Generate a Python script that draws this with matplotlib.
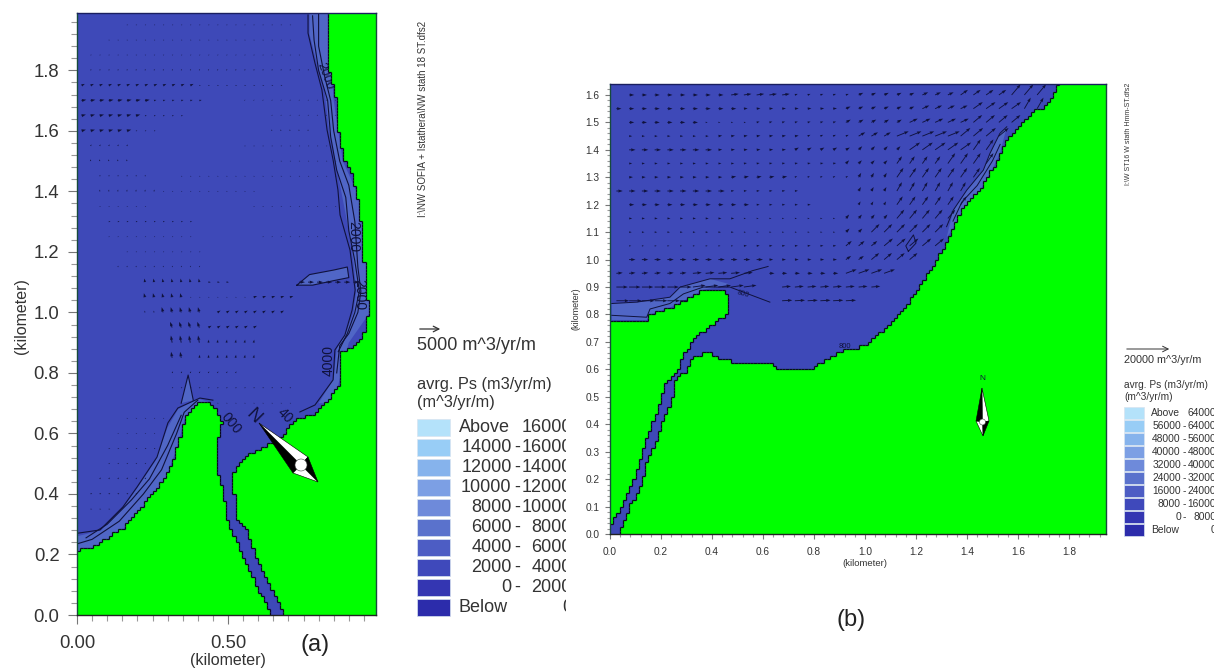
import numpy as np
import matplotlib
matplotlib.use("Agg")
import matplotlib.pyplot as plt
from matplotlib.collections import LineCollection
from matplotlib.colors import ListedColormap
from matplotlib.patches import Circle, Polygon, Rectangle
from matplotlib.path import Path

plt.rcParams['font.family'] = ['Liberation Sans', 'DejaVu Sans']

WATER = '#3e49b8'
BAND = '#5066c6'
LAND = '#00ff00'
DARK = '#10123c'
TEXT = '#333333'

# coastlines, km
a_land_right = [(.825, 2.0), (.825, 1.834), (.841, 1.768), (.858, 1.702), (.864, 1.603), (.887, 1.504),
                (.911, 1.454), (.927, 1.388), (.944, 1.272), (.950, 1.173), (.957, 1.074), (.964, 1.008),
                (.954, .942), (.930, .899), (.871, .866), (.871, .767), (.821, .701), (.778, .661),
                (.728, .651), (.682, .595), (.632, .562), (.583, .539), (.540, .506), (.517, .469),
                (.517, .423), (.530, .314), (.566, .281), (.583, .215), (.629, .116), (.685, 0),
                (1.0, 0), (1.0, 2.0)]
a_land_left = [(0, 0), (.646, 0), (.596, .093), (.550, .192), (.497, .314), (.483, .413), (.464, .469),
               (.464, .578), (.480, .635), (.464, .671), (.430, .704), (.397, .701), (.358, .661),
               (.348, .611), (.318, .512), (.285, .446), (.232, .380), (.152, .288), (.053, .225), (0, .212)]
b_land_right = [(2.0, 0), (2.0, 1.65), (1.765, 1.65), (1.739, 1.60), (1.706, 1.557), (1.654, 1.539),
                (1.608, 1.484), (1.556, 1.436), (1.529, 1.387), (1.497, 1.326), (1.444, 1.247),
                (1.386, 1.192), (1.346, 1.119), (1.320, 1.064), (1.281, .997), (1.216, .905),
                (1.176, .851), (1.124, .790), (1.059, .735), (1.007, .692), (.954, .674), (.902, .668),
                (.863, .644), (.824, .622), (.784, .600), (.660, .594), (.641, .619), (.549, .619),
                (.484, .627), (.431, .643), (.392, .659), (.346, .655), (.314, .637), (.301, .600),
                (.248, .552), (.242, .485), (.209, .418), (.183, .345), (.144, .259), (.124, .186),
                (.078, .101), (.035, 0)]
b_land_left = [(0, .772), (.137, .772), (.163, .802), (.235, .827), (.288, .851), (.366, .893), (.458, .881),
               (.458, .796), (.379, .753), (.327, .705), (.288, .656), (.268, .600), (.222, .558),
               (.196, .479), (.163, .393), (.124, .296), (.098, .211), (.039, .095), (.003, .028), (0, .025)]

# lighter strips along the shore, km
a_bands = [
    [(.77, 1.99), (.77, 1.92), (.795, 1.82), (.82, 1.73), (.835, 1.60), (.855, 1.50), (.875, 1.40), (.90, 1.27),
     (.915, 1.17), (.925, 1.07), (.915, 1.00), (.89, .93), (.86, .88), (.85, .78), (.80, .70), (.85, .70), (.90, .90),
     (.97, 1.00), (.96, 1.20), (.93, 1.39), (.88, 1.50), (.85, 1.70), (.83, 1.99)],
    [(0, .26), (.08, .28), (.15, .35), (.20, .42), (.26, .51), (.30, .62), (.335, .68), (.40, .715), (.45, .70),
     (.40, .69), (.36, .66), (.33, .55), (.29, .44), (.23, .37), (.15, .28), (.05, .22), (0, .21)],
    [(.345, .70), (.368, .793), (.385, .71)],
    [(.728, 1.09), (.77, 1.125), (.85, 1.14), (.895, 1.15), (.90, 1.115), (.85, 1.105), (.78, 1.09)],
]
b_bands = [
    [(.007, .84), (.105, .845), (.235, .863), (.275, .90), (.392, .93), (.47, .91), (.366, .89), (.288, .85),
     (.235, .825), (.157, .80), (.144, .78), (.007, .78)],
    [(1.556, 1.484), (1.529, 1.46), (1.49, 1.387), (1.464, 1.326), (1.399, 1.253), (1.346, 1.18), (1.32, 1.08),
     (1.35, 1.12), (1.39, 1.19), (1.45, 1.25), (1.50, 1.33), (1.53, 1.39)],
]

# contour lines next to the shore, km
a_contours = [
    [(.765, 1.983), (.765, 1.923), (.788, 1.824), (.811, 1.735), (.828, 1.603), (.848, 1.504), (.864, 1.405),
     (.871, 1.322), (.904, 1.206), (.921, 1.074), (.911, 1.008), (.887, .925), (.854, .876), (.848, .777),
     (.788, .694), (.738, .671)],
    [(.80, 1.99), (.80, 1.88), (.82, 1.78), (.84, 1.70), (.85, 1.60), (.87, 1.50), (.90, 1.42), (.92, 1.30),
     (.93, 1.15), (.94, 1.07), (.93, 1.00), (.90, .93), (.87, .89), (.86, .80)],
    [(.78, 1.98), (.785, 1.90), (.80, 1.80), (.83, 1.70), (.84, 1.58), (.86, 1.47), (.89, 1.38), (.90, 1.27),
     (.92, 1.17), (.935, 1.07), (.92, 1.00), (.895, .93), (.865, .87)],
    [(0, .27), (.076, .281), (.152, .357), (.199, .423), (.265, .522), (.301, .635), (.334, .684), (.407, .717),
     (.45, .71)],
    [(0, .235), (.05, .25), (.14, .31), (.22, .40), (.28, .48), (.33, .60), (.355, .67), (.40, .71)],
    [(.03, .255), (.10, .30), (.18, .38), (.24, .45), (.30, .56), (.345, .66)],
    [(.728, 1.09), (.77, 1.125), (.85, 1.14), (.895, 1.15), (.90, 1.115), (.85, 1.105), (.78, 1.09), (.728, 1.09)],
    [(.345, .70), (.368, .793), (.385, .71)],
]
b_contours = [
    [(1.556, 1.484), (1.529, 1.46), (1.49, 1.387), (1.464, 1.326), (1.399, 1.253), (1.346, 1.18), (1.32, 1.12)],
    [(1.53, 1.42), (1.50, 1.36), (1.44, 1.27), (1.38, 1.21), (1.345, 1.14)],
    [(.007, .84), (.105, .845), (.235, .863), (.275, .90), (.392, .93), (.47, .93), (.56, .96), (.62, .975)],
    [(.007, .797), (.144, .79), (.157, .82), (.235, .84), (.288, .875), (.366, .90), (.47, .90), (.627, .845)],
    [(1.17, 1.03), (1.20, 1.06), (1.19, 1.09), (1.16, 1.05), (1.17, 1.03)],
]

# vector rows: y, x from, x to, length (km), angle (deg)
a_runs = [
    (1.95, .15, .72, .004, 0), (1.90, .09, .72, .004, 0), (1.85, .03, .75, .004, 20), (1.80, .03, .78, .005, 60),
    (1.75, 0, .39, .012, 25), (1.75, .39, .69, .005, 0), (1.70, 0, .24, .016, 10), (1.70, .24, .42, .008, 15),
    (1.70, .54, .87, .004, 60), (1.65, 0, .21, .015, 15), (1.65, .21, .36, .006, 0), (1.65, .63, .87, .004, 60),
    (1.60, 0, .18, .015, 15), (1.60, .18, .27, .005, 0), (1.60, .63, .78, .005, 90), (1.55, .03, .18, .006, 60),
    (1.55, .54, .84, .004, 0), (1.50, .03, .18, .006, 90), (1.50, .63, .87, .004, 0), (1.45, .06, .24, .005, 60),
    (1.45, .33, .87, .004, 0), (1.40, .06, .27, .006, 80), (1.40, .27, .60, .004, 0), (1.35, .06, .24, .004, 0),
    (1.35, .57, .87, .004, 0), (1.30, .09, .39, .006, 0), (1.25, .09, .39, .004, 0), (1.25, .60, .84, .004, 0),
    (1.20, .15, .42, .004, 0), (1.15, .12, .42, .005, 60), (1.10, .21, .42, .012, 100), (1.10, .42, .51, .008, 0),
    (1.10, .72, .93, .02, 0), (1.05, .21, .36, .014, 105), (1.05, .36, .57, .004, 0), (1.05, .57, .72, .012, 20),
    (1.00, .21, .27, .006, 100), (1.00, .27, .42, .018, 105), (1.00, .45, .69, .012, 30), (.95, .30, .42, .02, 110),
    (.95, .42, .60, .012, 30), (.90, .30, .42, .024, 100), (.90, .42, .60, .01, 80), (.85, .30, .36, .02, 100),
    (.85, .39, .60, .01, 80), (.80, .30, .54, .006, 60), (.75, .30, .72, .005, 40), (.70, .45, .72, .004, 0),
    (.65, .15, .30, .004, 0), (.60, .12, .27, .004, 0), (.55, .09, .27, .005, 0), (.50, .09, .24, .005, 30),
    (.45, .06, .24, .006, 45), (.40, .03, .21, .006, 30), (.35, .03, .12, .005, 0),
]
b_runs = [
    (1.6, .05, .45, .02, 0), (1.6, .45, .7, .03, 8), (1.6, .7, .95, .012, 20), (1.6, .95, 1.2, .02, 25),
    (1.6, 1.2, 1.35, .025, 25), (1.6, 1.35, 1.55, .035, 35), (1.6, 1.55, 1.72, .055, 50),
    (1.55, 0, .5, .02, 0), (1.55, .5, .9, .015, 5), (1.55, .9, 1.2, .02, 25), (1.55, 1.2, 1.4, .03, 25),
    (1.55, 1.4, 1.6, .045, 35), (1.55, 1.6, 1.7, .05, 60),
    (1.5, .05, .35, .02, 0), (1.5, .35, .55, .008, 0), (1.5, .55, .9, .012, 15), (1.5, .9, 1.15, .022, 30),
    (1.5, 1.15, 1.4, .035, 25), (1.5, 1.4, 1.65, .045, 40),
    (1.45, .05, .4, .012, 0), (1.45, .4, .75, .015, 8), (1.45, .75, .95, .012, 25), (1.45, .95, 1.1, .03, 30),
    (1.45, 1.1, 1.35, .05, 22), (1.45, 1.35, 1.55, .05, 40),
    (1.4, .05, .4, .025, 0), (1.4, .4, .7, .015, 5), (1.4, .7, .95, .018, 30), (1.4, .95, 1.15, .02, 45),
    (1.4, 1.15, 1.4, .05, 35), (1.4, 1.4, 1.5, .05, 55),
    (1.35, .05, .5, .012, 5), (1.35, .5, .9, .012, 10), (1.35, .9, 1.1, .018, 45), (1.35, 1.1, 1.3, .035, 55),
    (1.35, 1.3, 1.5, .05, 55),
    (1.3, .05, .45, .015, 3), (1.3, .45, .7, .02, 10), (1.3, .7, .95, .01, 30), (1.3, .95, 1.1, .02, 60),
    (1.3, 1.1, 1.45, .045, 55),
    (1.25, 0, .45, .025, 0), (1.25, .45, .75, .012, 5), (1.25, .95, 1.1, .018, 60), (1.25, 1.1, 1.4, .04, 60),
    (1.2, .05, .55, .02, 0), (1.2, .55, .8, .012, 0), (1.2, .95, 1.1, .015, 60), (1.2, 1.1, 1.38, .04, 55),
    (1.15, .05, .5, .012, 0), (1.15, .5, .9, .008, 0), (1.15, .9, 1.1, .02, 50), (1.15, 1.1, 1.34, .045, 50),
    (1.1, .05, .5, .01, 0), (1.1, .5, .9, .008, 0), (1.1, .9, 1.0, .02, 45), (1.1, 1.0, 1.3, .045, 45),
    (1.05, .05, .5, .008, 0), (1.05, .5, .9, .012, 5), (1.05, .9, 1.05, .03, 40), (1.05, 1.05, 1.28, .045, 40),
    (1.0, .05, .6, .025, 0), (1.0, .6, .9, .015, 0), (1.0, .9, 1.0, .025, 35), (1.0, 1.0, 1.2, .04, 40),
    (.95, 0, .3, .025, 5), (.95, .3, .55, .035, 5), (.95, .6, .9, .02, 0), (.95, .9, 1.1, .045, 20),
    (.9, 0, .3, .045, 0), (.9, .3, .55, .05, 8), (.9, .65, 1.05, .035, 5),
    (.85, 0, .3, .05, 0), (.85, .65, .95, .04, 3),
]

# legends
leg_colors = ['#b4e2fa', '#98cdf6', '#86b3ec', '#7c9fe4', '#6e8ada', '#5a72cc', '#4d5dc4', '#3f49bb', '#3436b2', '#2c2cab']
a_low = ['14000', '12000', '10000', '8000', '6000', '4000', '2000', '0']
a_high = ['16000', '16000', '14000', '12000', '10000', '8000', '6000', '4000', '2000', '0']
b_low = ['56000', '48000', '40000', '32000', '24000', '16000', '8000', '0']
b_high = ['64000', '64000', '56000', '48000', '40000', '32000', '24000', '16000', '8000', '0']


def draw_land(ax, polys, xmax, ymax, cell):
    xe = np.arange(0, xmax + cell, cell)
    ye = np.arange(0, ymax + cell, cell)
    xc, yc = np.meshgrid((xe[1:] + xe[:-1]) / 2, (ye[1:] + ye[:-1]) / 2)
    pts = np.column_stack([xc.ravel(), yc.ravel()])
    mask = np.zeros(xc.shape, bool)
    for poly in polys:
        mask |= Path(poly).contains_points(pts).reshape(xc.shape)
    ax.pcolormesh(xe, ye, np.ma.masked_where(~mask, mask.astype(float)), cmap=ListedColormap([LAND]), zorder=3)
    segs = []
    for j, i in np.argwhere(mask[:, 1:] != mask[:, :-1]):
        segs.append([(xe[i + 1], ye[j]), (xe[i + 1], ye[j + 1])])
    for j, i in np.argwhere(mask[1:, :] != mask[:-1, :]):
        segs.append([(xe[i], ye[j + 1]), (xe[i + 1], ye[j + 1])])
    ax.add_collection(LineCollection(segs, colors='#0a0a20', linewidths=0.9, zorder=4))


def draw_vectors(ax, runs, dx):
    xs, ys, us, vs = [], [], [], []
    for y, x0, x1, length, ang in runs:
        for x in np.arange(x0 + dx / 2, x1, dx):
            xs.append(x)
            ys.append(y)
            us.append(length * np.cos(np.radians(ang)))
            vs.append(length * np.sin(np.radians(ang)))
    ax.quiver(xs, ys, us, vs, angles='uv', scale_units='x', scale=1, color=DARK, units='dots', width=0.9,
              headwidth=3.5, headlength=5, headaxislength=4.5, minlength=1.2, zorder=2)


def setup_axes(ax, xmax, ymax, xmajor, xminor, ymajor, yminor, size):
    ax.set_facecolor(WATER)
    ax.set_xlim(0, xmax)
    ax.set_ylim(0, ymax)
    ax.set_xticks(xmajor)
    ax.set_yticks(ymajor)
    ax.set_xticks(xminor, minor=True)
    ax.set_yticks(yminor, minor=True)
    ax.tick_params(which='major', direction='out', length=size * 0.5, width=0.8, color='#777777',
                   labelsize=size, labelcolor=TEXT)
    ax.tick_params(which='minor', direction='out', length=size * 0.3, width=0.8, color='#999999')
    for s in ax.spines.values():
        s.set_color('#174a3c')
        s.set_linewidth(1)
        s.set_zorder(6)
    ax.spines['top'].set_color('#1a1f60')
    ax.spines['bottom'].set_color('#222222')


fig = plt.figure(figsize=(12.2, 6.69), dpi=100)

# panel a
ax_a = fig.add_axes([77 / 1220, 54 / 669, 299 / 1220, 602 / 669])
setup_axes(ax_a, 299 / 302, 602 / 302.6, [0, .5], np.arange(0, .99, .05),
           np.arange(0, 1.9, .2), np.arange(0, 1.99, .04), 13.3)
ax_a.set_xticklabels(['0.00', '0.50'])
ax_a.set_yticklabels(['%.1f' % v for v in np.arange(0, 1.9, .2)])
ax_a.tick_params(axis='x', which='major', pad=8)
ax_a.tick_params(axis='y', which='major', pad=6)
for band in a_bands:
    ax_a.fill(*zip(*band), color=BAND, lw=0, zorder=1.5)
draw_vectors(ax_a, a_runs, .03)
for c in a_contours:
    ax_a.plot(*zip(*c), color=DARK, lw=0.8, zorder=2.5)
draw_land(ax_a, [a_land_right, a_land_left], 299 / 302, 602 / 302.6, .0105)

# panel b
ax_b = fig.add_axes([610 / 1220, 135 / 669, 496 / 1220, 450.5 / 669])
setup_axes(ax_b, 496 / 255, 450.5 / 274.4, np.arange(0, 1.9, .2), np.arange(0, 1.94, .04),
           np.arange(0, 1.65, .1), np.arange(0, 1.64, .02), 7.3)
ax_b.set_xticklabels(['%.1f' % v for v in np.arange(0, 1.9, .2)])
ax_b.set_yticklabels(['%.1f' % v for v in np.arange(0, 1.65, .1)])
ax_b.tick_params(axis='x', which='major', pad=6)
ax_b.tick_params(axis='y', which='major', pad=4)
for band in b_bands:
    ax_b.fill(*zip(*band), color=BAND, lw=0, zorder=1.5)
draw_vectors(ax_b, b_runs, .05)
for c in b_contours:
    ax_b.plot(*zip(*c), color=DARK, lw=0.7, zorder=2.5)
draw_land(ax_b, [b_land_right, b_land_left], 496 / 255, 450.5 / 274.4, .0125)
ax_b.text(.523, .873, '800', fontsize=5.5, rotation=-15, color=DARK, ha='center', va='center', zorder=5)
ax_b.text(.92, .683, '800', fontsize=5.5, color=DARK, ha='center', va='center', zorder=5)

# contour labels on panel a
for x, y, s, r, fs in [(.914, 1.252, '2000', -90, 10), (.934, 1.06, '2000', -90, 10), (.834, .84, '4000', 90, 10),
                       (.51, .635, '000', -50, 10), (.69, .66, '40', -45, 10), (.82, 1.78, '2000', -70, 9)]:
    ax_a.text(x, y, s, rotation=r, fontsize=fs, color=DARK, ha='center', va='center', zorder=2.6)

# page level items, in picture pixels
over = fig.add_axes([0, 0, 1, 1], zorder=10)
over.set_xlim(0, 1220)
over.set_ylim(669, 0)
over.axis('off')
over.patch.set_alpha(0)


def txt(x, y, s, size, **kw):
    kw.setdefault('va', 'center')
    kw.setdefault('color', TEXT)
    return over.text(x, y, s, fontsize=size, **kw)


def compass(tip, left, right, bottom, centre, rad, n_xy, n_rot, n_size):
    over.add_patch(Polygon([tip, left, centre], fc='black', ec='black', lw=0.4))
    over.add_patch(Polygon([tip, right, centre], fc='white', ec='black', lw=0.4))
    over.add_patch(Polygon([right, bottom, centre], fc='black', ec='black', lw=0.4))
    over.add_patch(Polygon([left, bottom, centre], fc='white', ec='black', lw=0.4))
    over.add_patch(Circle(centre, rad, fc='white', ec='#444444', lw=0.4))
    txt(n_xy[0], n_xy[1], 'N', n_size, rotation=n_rot, ha='center', color=DARK)


def legend(x0, x1, y0, step, h, xlabel, xdash, xhigh, clip_x, low, high, size):
    clip = Rectangle((x0 - 5, y0 - 20), clip_x - x0 + 5, step * 12, transform=over.transData)
    labels = ['Above'] + low + ['Below']
    for i, col in enumerate(leg_colors):
        yc = y0 + i * step
        over.add_patch(Rectangle((x0, yc - h / 2), x1 - x0, h, fc=col, ec='#d8e4f0', lw=0.5))
        if i == 0 or i == 9:
            txt(xlabel, yc, labels[i], size)
        else:
            txt(xdash - size * 0.42, yc, labels[i], size, ha='right')
            txt(xdash, yc, '-', size, ha='center')
        t = txt(xhigh, yc, high[i], size, ha='right')
        t.set_clip_on(True)
        t.set_clip_path(clip)


compass((259, 423), (293, 473), (308, 457), (318, 482), (301, 465), 6, (253, 416), -45, 13)
compass((982, 388), (976, 421), (989, 421), (983, 436), (982.5, 422), 3, (982, 378), 0, 6)

txt(22, 316, '(kilometer)', 11.5, rotation=90, ha='center')
txt(228, 660, '(kilometer)', 11.5, ha='center')
txt(315, 645, '(a)', 17, ha='center', color='#222222')
txt(576, 309, '(kilometer)', 6.5, rotation=90, ha='center')
txt(865, 564, '(kilometer)', 6.8, ha='center')
txt(851, 620, '(b)', 17, ha='center', color='#222222')

txt(423, 119, 'I:\\NW SOFIA + Istathera\\NW stath 18 ST.dfs2', 7, rotation=90, ha='center')
txt(1128, 134, 'I:\\W ST16 W stath Hmm-ST.dfs2', 5, rotation=90, ha='center')

# scale arrows and legends
over.annotate('', xy=(443, 329), xytext=(417, 329), arrowprops=dict(arrowstyle='->', color='#333333', lw=0.9))
txt(417, 346, '5000 m^3/yr/m', 13)
txt(417, 385, 'avrg. Ps (m3/yr/m)', 11.8)
txt(417, 403, '(m^3/yr/m)', 11.8)
legend(417, 450, 427, 20, 17, 459, 517, 572, 566, a_low, a_high, 13)

over.annotate('', xy=(1172, 349), xytext=(1124, 349), arrowprops=dict(arrowstyle='->', color='#333333', lw=0.7))
txt(1124, 360, '20000 m^3/yr/m', 7.8)
txt(1124, 385, 'avrg. Ps (m3/yr/m)', 7.3)
txt(1124, 397, '(m^3/yr/m)', 7.3)
legend(1124, 1144, 413, 13, 11.5, 1151, 1184, 1216, 1214, b_low, b_high, 7.4)

fig.savefig('out.png', dpi=100)
